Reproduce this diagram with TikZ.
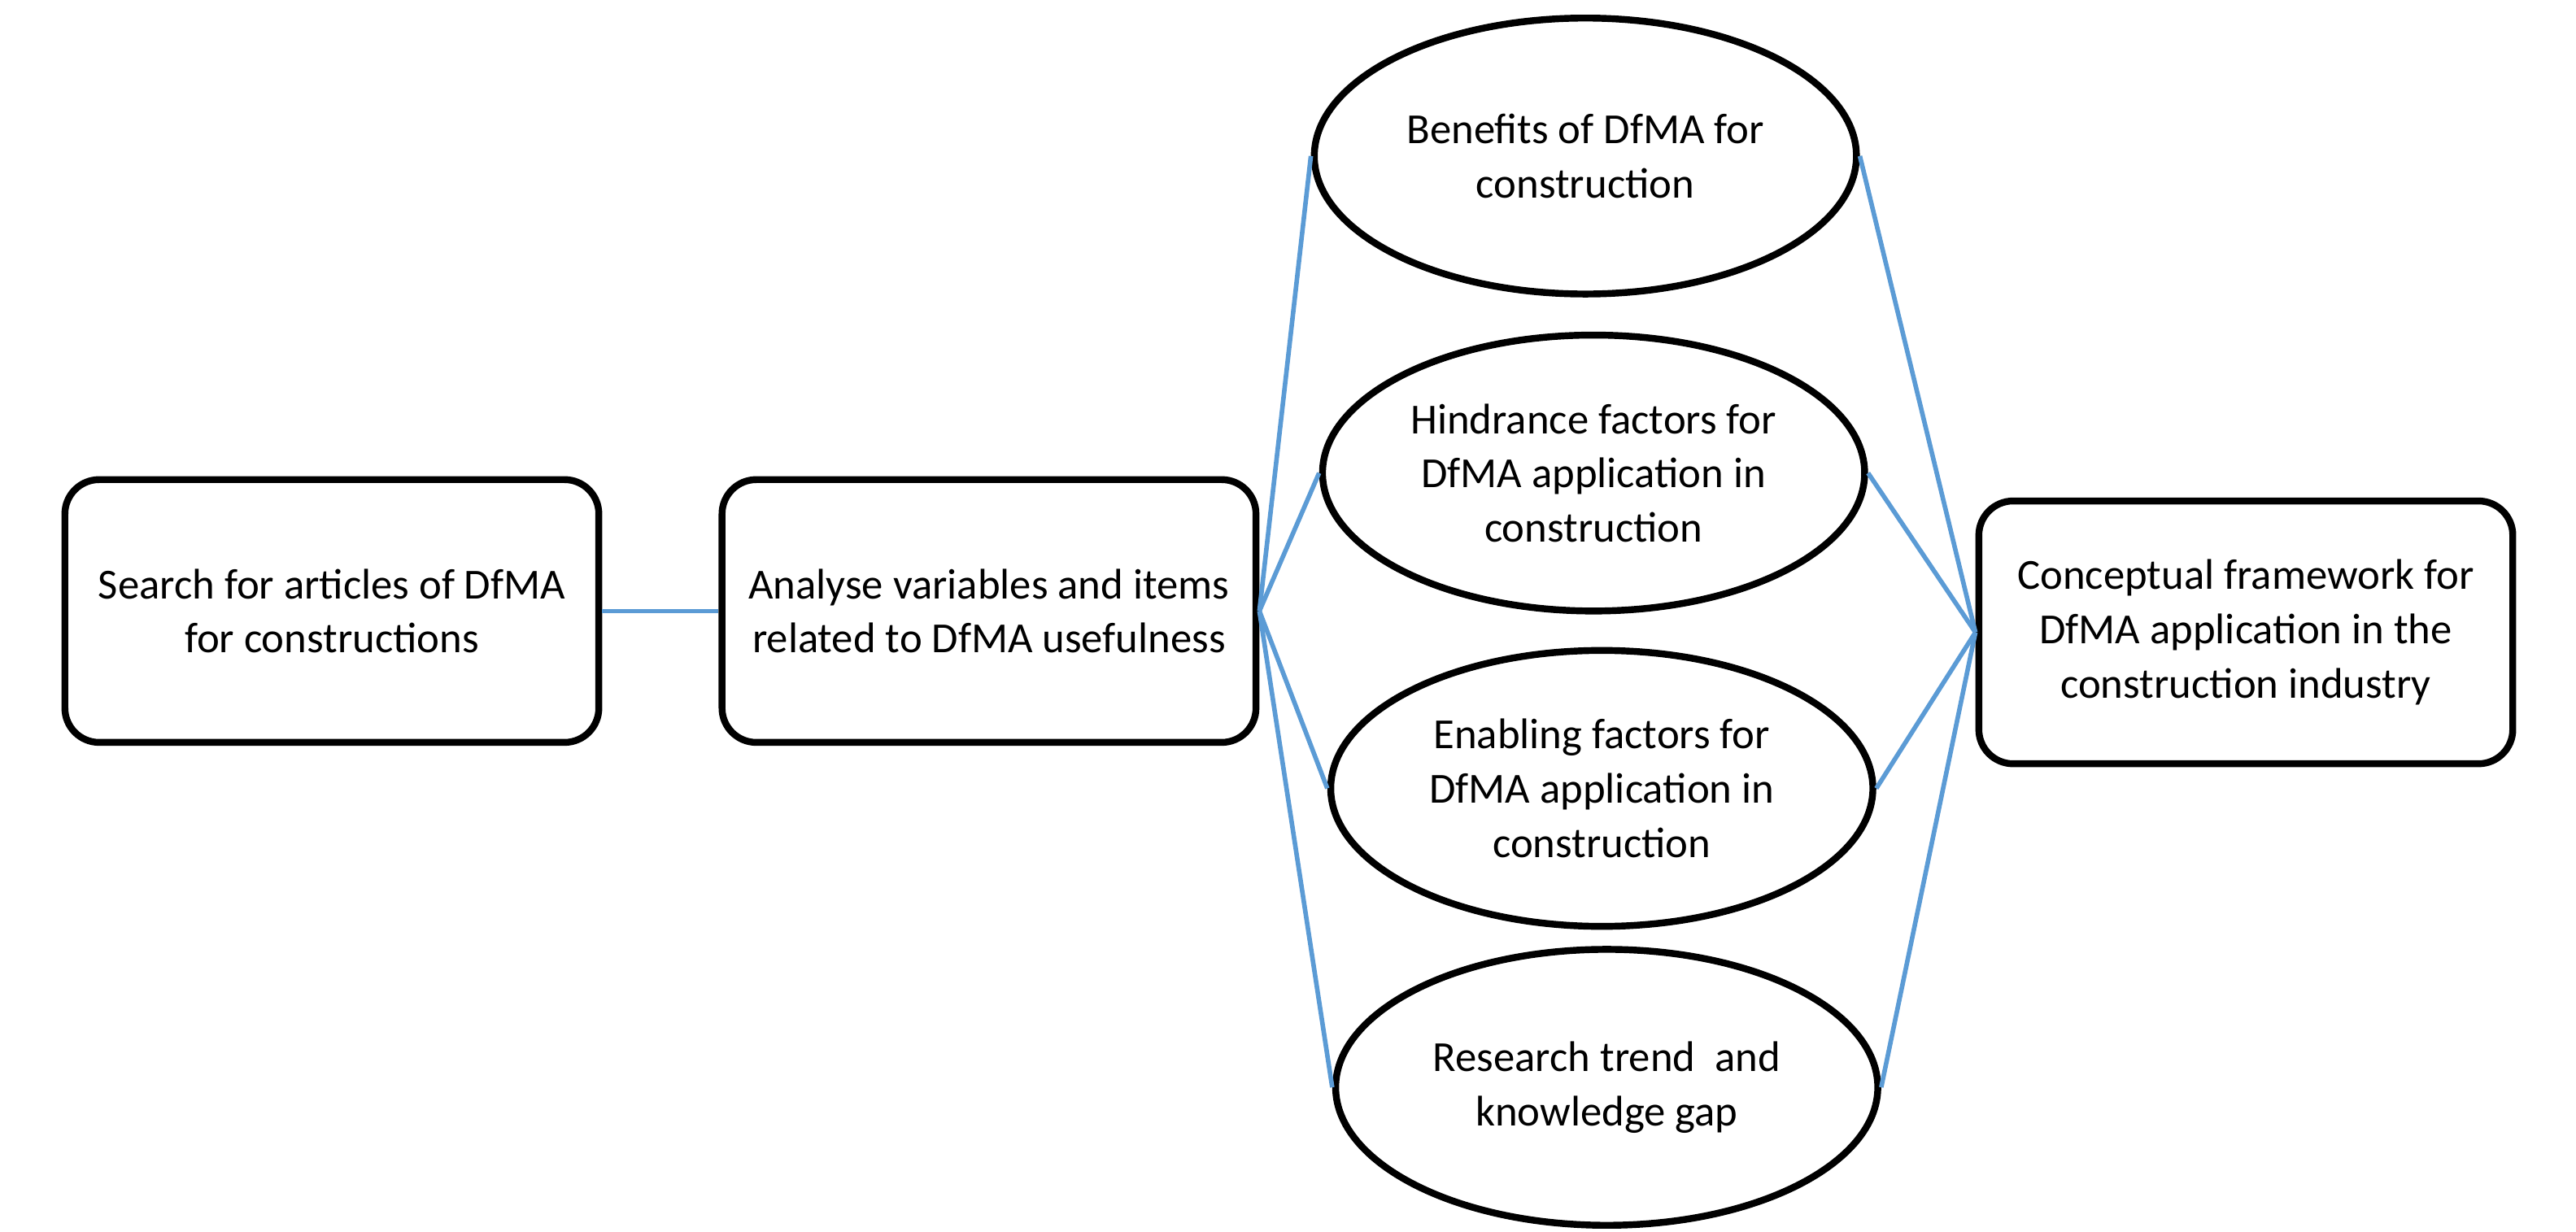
\documentclass[tikz,border=0pt]{standalone}
\usepackage{fontspec}
\setmainfont{Carlito}
\usetikzlibrary{shapes.geometric}
\definecolor{ln}{RGB}{91,155,213}
\begin{document}
\begin{tikzpicture}[x=0.0202cm,y=-0.0202cm,
 box/.style={draw,line width=2.4pt,rounded corners=12pt,minimum width=325*0.0202cm,minimum height=160*0.0202cm,align=center,font=\fontsize{15}{19}\selectfont},
 ell/.style={draw,line width=2.4pt,ellipse,minimum width=330*0.0202cm,minimum height=168*0.0202cm,inner sep=0pt,align=center,font=\fontsize{15}{19}\selectfont},
 con/.style={draw=ln,line width=1.6pt}]
\useasboundingbox (0,0) rectangle (1568,750);
\node[box] (b1) at (202,372) {Search for articles of DfMA\\for constructions};
\node[box] (b2) at (602,372) {Analyse variables and items\\related to DfMA usefulness};
\node[box] (b3) at (1367,385) {Conceptual framework for\\DfMA application in the\\construction industry};
\node[ell] (e1) at (965,95) {Benefits of DfMA for\\construction};
\node[ell] (e2) at (970,288) {Hindrance factors for\\DfMA application in\\construction};
\node[ell] (e3) at (975,480) {Enabling factors for\\DfMA application in\\construction};
\node[ell] (e4) at (978,662) {Research trend\ \ and\\knowledge gap};
\coordinate (o) at (b2.east);
\coordinate (i) at (b3.west);
\path[con] (b1) -- (b2);
\foreach \e in {e1,e2,e3,e4}{
 \path[con] (o) -- (\e.west);
 \path[con] (\e.east) -- (i);
}
\end{tikzpicture}
\end{document}
